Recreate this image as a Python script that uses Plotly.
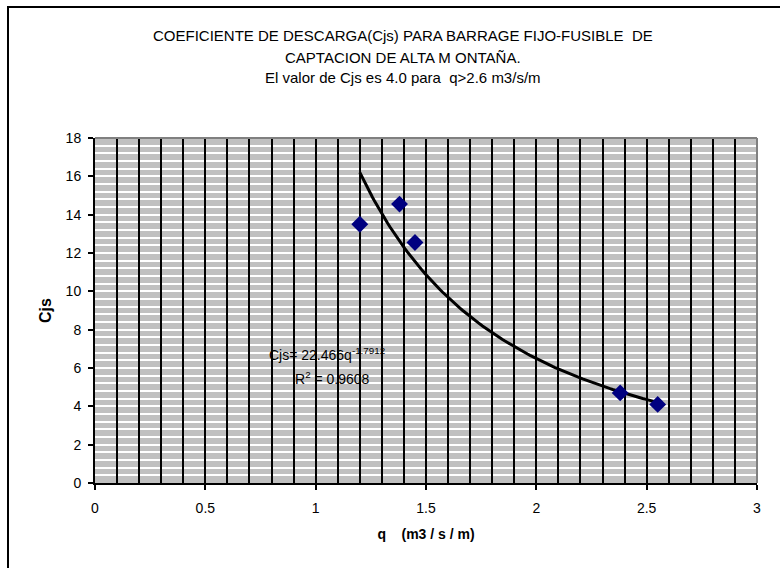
import numpy as np
import plotly.graph_objects as go

# ---- data ----
q_values = [1.20, 1.38, 1.45, 2.38, 2.55]
cjs_values = [13.5, 14.55, 12.55, 4.7, 4.1]

# power trendline as printed on the chart
trend_a = 22.466
trend_b = -1.7912
trend_r2 = 0.9608

title_lines = [
    "COEFICIENTE DE DESCARGA(Cjs) PARA BARRAGE FIJO-FUSIBLE  DE",
    "CAPTACION DE ALTA M ONTAÑA.",
    "El valor de Cjs es 4.0 para  q>2.6 m3/s/m",
]
x_title = "q    (m3 / s / m)"
y_title = "Cjs"
x_ticks = [0, 0.5, 1, 1.5, 2, 2.5, 3]
x_tick_labels = ["0", "0.5", "1", "1.5", "2", "2.5", "3"]
y_ticks = [0, 2, 4, 6, 8, 10, 12, 14, 16, 18]

FONT = "Liberation Sans, Arial, sans-serif"

q_fit = np.linspace(min(q_values), max(q_values), 120)
cjs_fit = trend_a * q_fit ** trend_b

fig = go.Figure()
fig.add_trace(go.Scatter(x=q_fit, y=cjs_fit, mode="lines", xaxis="x", yaxis="y",
                         line=dict(color="black", width=3), showlegend=False,
                         hoverinfo="skip"))
fig.add_trace(go.Scatter(x=q_values, y=cjs_values, mode="markers",
                         xaxis="x2", yaxis="y",
                         marker=dict(symbol="diamond", size=13, color="#000080"),
                         showlegend=False))

L, R, T, B = 95, 23, 138, 85
W, H = 780, 568
pw, ph = W - L - R, H - T - B

def px(x):
    return (x - L) / pw

def py(y):
    return (H - B - y) / ph

fig.update_layout(
    width=W, height=H,
    margin=dict(l=L, r=R, t=T, b=B, autoexpand=False),
    paper_bgcolor="white", plot_bgcolor="#C0C0C0",
    font=dict(family=FONT, size=13, color="black"),
    showlegend=False,
    xaxis=dict(
        range=[0, 3], tickvals=x_ticks, ticktext=x_tick_labels,
        showgrid=False,
        showline=True, linecolor="black", linewidth=2,
        ticks="outside", ticklen=5, tickwidth=2, tickcolor="black",
        ticklabelstandoff=6,
        zeroline=False, tickfont=dict(size=14),
        title=dict(text="<b>" + x_title + "</b>", font=dict(size=14), standoff=14),
    ),
    # overlay axis used only for the black vertical gridlines (drawn above the white ones)
    xaxis2=dict(
        range=[0, 3], overlaying="x", anchor="y", side="bottom",
        dtick=0.1, showgrid=True, gridcolor="black", gridwidth=2,
        showticklabels=False, ticks="", showline=False, zeroline=False,
    ),
    yaxis=dict(
        range=[0, 18], tickvals=y_ticks,
        showgrid=True, gridcolor="white", gridwidth=2,
        minor=dict(dtick=0.4, showgrid=True, gridcolor="white", gridwidth=2,
                   ticks=""),
        showline=True, linecolor="black", linewidth=2,
        ticks="outside", ticklen=5, tickwidth=2, tickcolor="black",
        ticklabelstandoff=4,
        zeroline=False, tickfont=dict(size=14),
        title=dict(text="<b>" + y_title + "</b>", font=dict(size=16), standoff=10),
    ),
)

# plot-area top/right gray border
fig.add_shape(type="line", xref="paper", yref="paper", x0=0, x1=1, y0=1, y1=1,
              line=dict(color="#808080", width=2))
fig.add_shape(type="line", xref="paper", yref="paper", x0=1, x1=1, y0=0, y1=1,
              line=dict(color="#808080", width=2))
# chart-area border (cropped at right and bottom in the original)
fig.add_shape(type="rect", xref="paper", yref="paper",
              x0=px(8), x1=px(800), y0=py(7), y1=py(600),
              line=dict(color="black", width=2), layer="below")

# title lines
for line, ypix in zip(title_lines, [36, 57, 78]):
    fig.add_annotation(text=line, xref="paper", yref="paper",
                       x=px(403), y=py(ypix), showarrow=False,
                       xanchor="center", yanchor="middle",
                       font=dict(size=15, family=FONT))

# trendline equation
fig.add_annotation(text=f"Cjs= {trend_a}q<sup>{trend_b}</sup>",
                   xref="paper", yref="paper", x=px(267), y=py(354),
                   xanchor="left", yanchor="middle", showarrow=False,
                   font=dict(size=14, family=FONT))
fig.add_annotation(text=f"R<sup>2</sup> = {trend_r2}",
                   xref="paper", yref="paper", x=px(293), y=py(378),
                   xanchor="left", yanchor="middle", showarrow=False,
                   font=dict(size=14, family=FONT))

fig.write_html(
    "out.html",
    config={"displayModeBar": False},
    post_script="document.body.style.margin='0';document.body.style.padding='0';"
                "document.body.style.overflow='hidden';",
)
